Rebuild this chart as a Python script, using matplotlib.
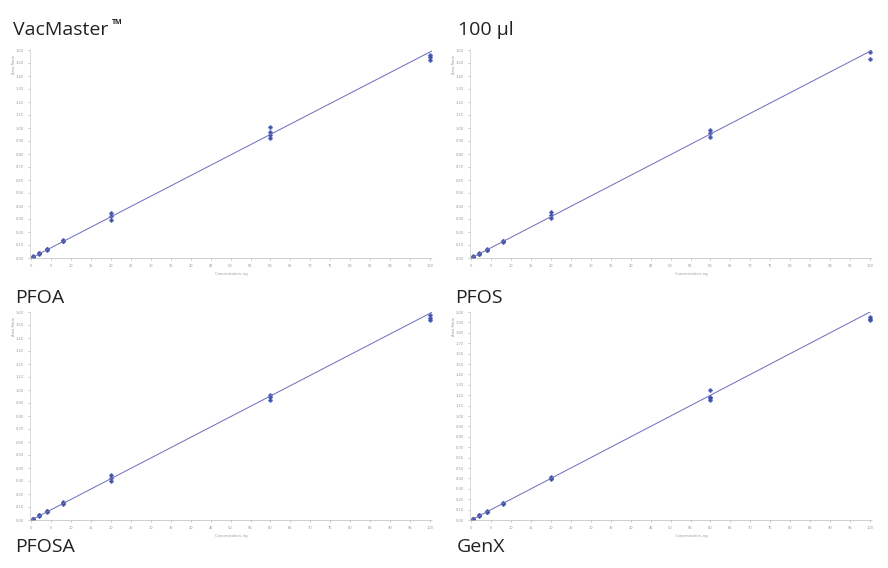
import matplotlib.pyplot as plt
import numpy as np

# concentration levels (x) and replicate responses for each panel
levels = [0.5, 2, 4, 8, 20, 60, 100]

pfoa = [[0.01, 0.012, 0.008], [0.04, 0.035, 0.032], [0.07, 0.066, 0.063],
        [0.14, 0.133, 0.128], [0.346, 0.323, 0.292],
        [1.008, 0.969, 0.946, 0.923], [1.56, 1.546, 1.523]]
pfos = [[0.01, 0.008, 0.012], [0.035, 0.032, 0.03], [0.066, 0.063, 0.06],
        [0.13, 0.127, 0.122], [0.354, 0.33, 0.308],
        [0.985, 0.962, 0.931], [1.585, 1.531]]
pfosa = [[0.01, 0.008, 0.006], [0.04, 0.035, 0.032], [0.07, 0.066, 0.064],
         [0.135, 0.128, 0.124], [0.346, 0.323, 0.30],
         [0.96, 0.946, 0.923], [1.577, 1.554, 1.538]]
genx = [[0.01, 0.008, 0.005], [0.05, 0.045, 0.04], [0.085, 0.08, 0.077],
        [0.165, 0.16, 0.154], [0.413, 0.40, 0.394],
        [1.25, 1.183, 1.17, 1.154], [1.952, 1.935, 1.923]]

# calibration lines (slope, intercept)
fits = [(0.01585, 0.0), (0.0159, 0.0), (0.0159, 0.0), (0.02, 0.0)]
ymax = [1.6, 1.6, 1.6, 2.0]
panels = [pfoa, pfos, pfosa, genx]

fig = plt.figure(figsize=(8.88, 5.68), dpi=100)
W, H = 888, 568
boxes = [(30, 50), (470, 50), (30, 312), (470, 312)]

for i, (x0, y0) in enumerate(boxes):
    ax = fig.add_axes([x0 / W, 1 - (y0 + 208) / H, 402 / W, 208 / H])
    data = panels[i]
    for lv, reps in zip(levels, data):
        ax.plot([lv] * len(reps), reps, 'P', color='#3a4fa8', ms=2.8,
                mec='#3a4fa8', mew=0.3)
    xs = np.array([0, 100.4])
    m, b = fits[i]
    ax.plot(xs, m * xs + b, color='#7373c0', lw=0.75)
    ax.set_xlim(-0.3, 100.5)
    ax.set_ylim(0, ymax[i])
    ax.set_xticks(np.arange(0, 101, 5))
    ax.set_yticks(np.arange(0, ymax[i] + 0.01, 0.1))
    ax.set_xticklabels([str(v) for v in range(0, 101, 5)])
    ax.set_yticklabels(['%.2f' % v for v in np.arange(0, ymax[i] + 0.01, 0.1)])
    ax.tick_params(labelsize=2.6, colors='#999999', length=1.5, width=0.4,
                   pad=3)
    for s in ['top', 'right']:
        ax.spines[s].set_visible(False)
    ax.spines['left'].set_color('#cccccc')
    ax.spines['left'].set_linewidth(0.5)
    ax.spines['bottom'].set_color('#bbbbbb')
    ax.spines['bottom'].set_linewidth(0.5)
    ax.spines['bottom'].set_linestyle((0, (2, 1)))
    ax.set_xlabel('Concentration, ng', fontsize=2.6, color='#999999')
    ax.xaxis.set_label_coords(0.5 if i % 2 == 0 else 0.55, -0.065)
    ax.set_ylabel('Area Ratio', fontsize=2.6, color='#999999', labelpad=1)
    ax.yaxis.set_label_coords(-0.035, 0.93)
    ax.patch.set_alpha(0)

font = 'Open Sans'
labels = [('VacMaster', 13, 35), ('100 \u00b5l', 458, 35),
          ('PFOA', 15, 303), ('PFOS', 455, 303),
          ('PFOSA', 15, 552), ('GenX', 457, 552)]
for txt, x, y in labels:
    fig.text(x / W, 1 - y / H, txt, fontsize=14, family=font,
             color='#222222', va='baseline')
# trademark sign next to VacMaster
fig.text(112 / W, 1 - 24 / H, 'TM', fontsize=5, family=font,
         weight='bold', color='#222222', va='baseline')

fig.savefig('out.png', dpi=100)
